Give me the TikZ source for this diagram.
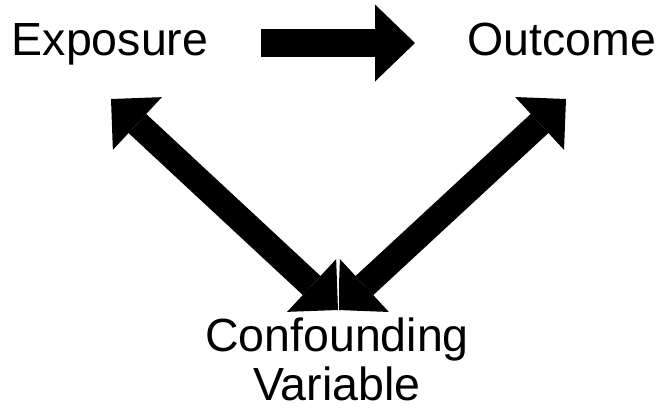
\documentclass[tikz,border=0pt]{standalone}
\usepackage{fontspec}
\setmainfont{Liberation Sans}
\usetikzlibrary{arrows.meta}

\tikzset{
  label/.style={inner sep=0pt, font=\fontsize{46.5}{49}\selectfont, text=black},
  fatarrow/.style={line width=28pt, draw=black,
    -{Triangle[length=40pt, width=77pt, line width=0pt]}},
  fatdouble/.style={line width=26pt, draw=black,
    {Triangle[length=36pt, width=72pt, line width=0pt]}-{Triangle[length=36pt, width=72pt, line width=0pt]}},
}

\begin{document}
\begin{tikzpicture}[x=1pt, y=-1pt]
  \useasboundingbox[fill=white] (0,0) rectangle (664,413);

  % labels (the base of the two-line label is its last line)
  \node[label, anchor=base] (ex)  at (110,55) {Exposure};
  \node[label, anchor=base] (out) at (562,55) {Outcome};
  \node[label, anchor=base, align=center] (cf) at (337,400) {Confounding\\Variable};

  % arrow end points, placed from the labels
  \coordinate (exRight) at ([shift={(150.7,-12)}]ex.base);
  \coordinate (outLeft) at ([shift={(-147,-12)}]out.base);
  \coordinate (exTip)   at ([shift={(1,44)}]ex.base);
  \coordinate (outTip)  at ([shift={(4,44)}]out.base);
  \coordinate (cfTip)   at ([shift={(1,-90)}]cf.base);
  \coordinate (cfSep)   at ([shift={(1,-143)}]cf.base);

  % exposure -> outcome
  \draw[fatarrow] (exRight) -- (outLeft);

  % confounder <-> exposure, confounder <-> outcome
  \draw[fatdouble] (exTip) -- (cfTip);
  \draw[fatdouble] (outTip) -- (cfTip);
  \draw[white, line width=0.8pt] (cfSep) -- (cfTip);
\end{tikzpicture}
\end{document}
